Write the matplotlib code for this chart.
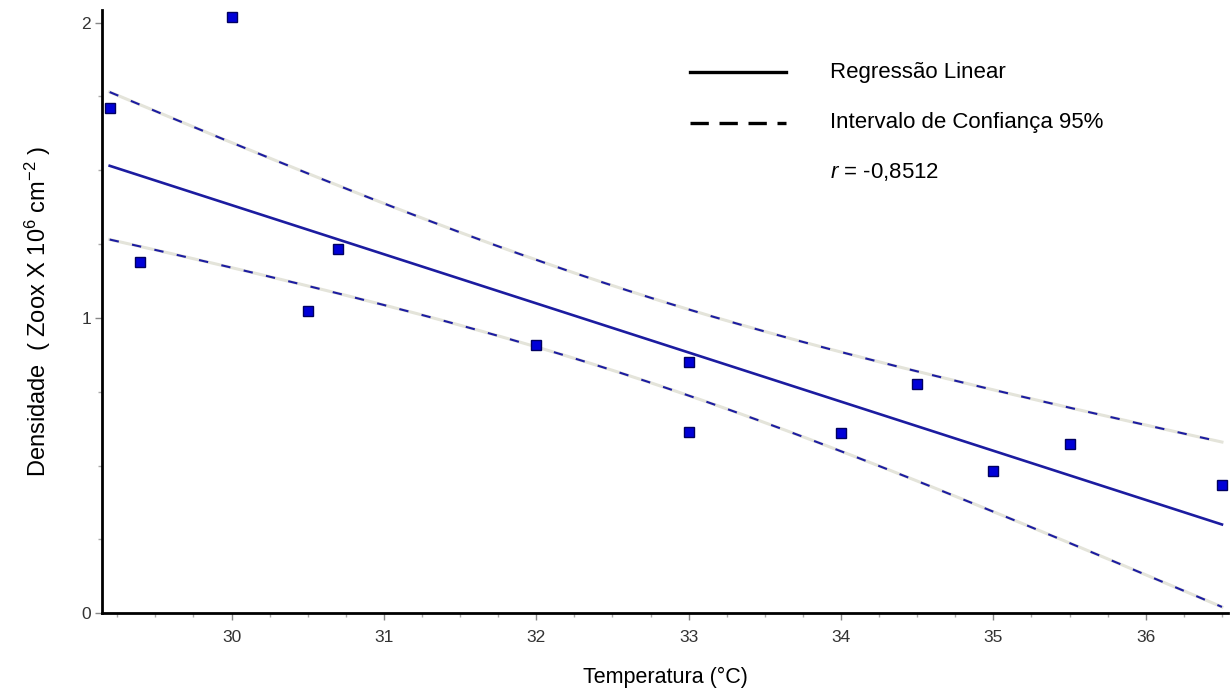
import numpy as np
import matplotlib.pyplot as plt
from matplotlib.ticker import MultipleLocator, FixedLocator

plt.rcParams['font.family'] = ['Liberation Sans', 'DejaVu Sans']
plt.rcParams['mathtext.fontset'] = 'custom'
plt.rcParams['mathtext.rm'] = 'Liberation Sans'
plt.rcParams['mathtext.it'] = 'Liberation Sans:italic'

# temperatura (C) x densidade de zooxantelas
temperatura = [29.2, 29.4, 30.0, 30.5, 30.7, 32.0, 33.0, 33.0, 34.0, 34.5, 35.0, 35.5, 36.5]
densidade = [1.71, 1.19, 2.02, 1.025, 1.233, 0.909, 0.852, 0.613, 0.61, 0.775, 0.483, 0.573, 0.434]
r_valor = -0.8512

x = np.array(temperatura)
y = np.array(densidade)

# regressao linear e intervalo de confianca da media
b, a = np.polyfit(x, y, 1)
n = len(x)
res = y - (a + b * x)
s = np.sqrt(np.sum(res ** 2) / (n - 2))
sxx = np.sum((x - x.mean()) ** 2)
xs = np.linspace(x.min(), x.max(), 200)
ys = a + b * xs
meia = 1.96 * s * np.sqrt(1.0 / n + (xs - x.mean()) ** 2 / sxx)

fig = plt.figure(figsize=(12.31, 6.88), dpi=100)
ax = fig.add_axes([0.0829, 0.1086, 0.9147, 0.877])

azul = '#1c1ca0'
dash = (0, (4.5, 6.5))
for yy in (ys + meia, ys - meia):
    ax.plot(xs, yy, color='#e4e4da', lw=2.2, zorder=2)
    ax.plot(xs, yy, color=azul, lw=1.5, linestyle=dash, zorder=3)
ax.plot(xs, ys, color=azul, lw=1.9, zorder=3)
ax.plot(x, y, 's', ms=7.5, mfc='#0000d8', mec='#000060', mew=1, zorder=4)

ax.set_xlim(29.15, 36.54)
ax.set_ylim(0, 2.043)
ax.xaxis.set_major_locator(FixedLocator([30, 31, 32, 33, 34, 35, 36]))
ax.xaxis.set_minor_locator(MultipleLocator(0.25))
ax.yaxis.set_major_locator(FixedLocator([0, 1, 2]))
ax.yaxis.set_minor_locator(MultipleLocator(0.25))

for lado in ('top', 'right'):
    ax.spines[lado].set_visible(False)
for lado in ('left', 'bottom'):
    ax.spines[lado].set_linewidth(2)
    ax.spines[lado].set_color('black')

ax.tick_params(which='major', length=5, width=1, color='#888888', labelsize=12.5,
               labelcolor='#333333')
ax.tick_params(which='minor', length=3, width=1, color='#aaaaaa')
ax.tick_params(axis='x', which='major', pad=7)
ax.tick_params(axis='y', which='major', pad=3)

ax.set_xlabel('Temperatura (°C)', fontsize=15.5, labelpad=16)
ax.set_ylabel('Densidade  ( Zoox X 10$^{6}$ cm$^{-2}$ )', fontsize=17, labelpad=20)

# legenda
ax.plot([0.522, 0.607], [0.897, 0.897], color='black', lw=2.4, transform=ax.transAxes)
ax.plot([0.522, 0.607], [0.813, 0.813], color='black', lw=2.4, linestyle=(0, (5.5, 3.2)),
        transform=ax.transAxes)
ax.text(0.6465, 0.897, 'Regressão Linear', fontsize=16, va='center', transform=ax.transAxes)
ax.text(0.6465, 0.813, 'Intervalo de Confiança 95%', fontsize=16, va='center',
        transform=ax.transAxes)
ax.text(0.6465, 0.732, '$\\it{r}$' + ' = ' + f'{r_valor:.4f}'.replace('.', ','),
        fontsize=16, va='center', transform=ax.transAxes)

fig.savefig('out.png', dpi=100)
